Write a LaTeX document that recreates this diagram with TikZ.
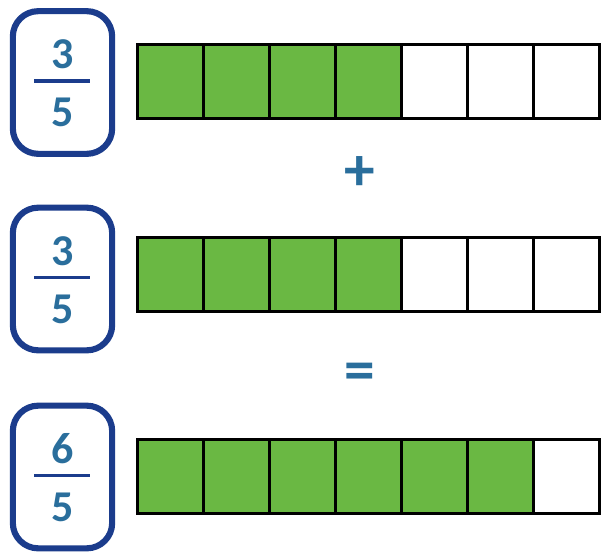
\documentclass[tikz,border=0pt]{standalone}
\usepackage{fontspec}
\setmainfont{Carlito}
\definecolor{boxblue}{HTML}{1B3C8C}
\definecolor{digitblue}{HTML}{2A6E9C}
\definecolor{cellgreen}{HTML}{6AB843}
\tikzset{
  fracbox/.style={draw=boxblue, line width=4.6pt, rounded corners=19pt, minimum width=74.5pt, minimum height=107pt, inner sep=0pt},
  digit/.style={text=digitblue, font=\bfseries\fontsize{33}{33}\selectfont, inner sep=0pt},
  fracline/.style={draw=boxblue, line width=2.4pt},
  cell/.style={draw=black, line width=2.25pt, minimum width=49.6pt, minimum height=55.5pt, inner sep=0pt},
  full/.style={cell, fill=cellgreen},
  empty/.style={cell, fill=white},
  opsign/.style={text=digitblue, font=\bfseries\fontsize{46}{46}\selectfont, inner sep=0pt}
}
\begin{document}
\begin{tikzpicture}[x=0.75pt, y=-0.75pt]
\useasboundingbox (0,0) rectangle (604,554);
% rows: box centre y, bar centre y, numerator, denominator, green cells
\foreach \r/\by/\cy/\num/\den/\g in {1/82.5/81/3/5/4, 2/279/274/3/5/4, 3/477/476/6/5/6} {
  \node[fracbox] (box\r) at (62.5,\by) {};
  \node[digit] (num\r) at (62.5,\by-28) {\num};
  \node[digit] (den\r) at (62.5,\by+30) {\den};
  \coordinate (fl\r) at (34,\by-1.5);
  \coordinate (fr\r) at (90,\by-1.5);
  \draw[fracline] (fl\r) -- (fr\r);
  \foreach \c in {1,...,7} {
    \pgfmathsetmacro{\cx}{137+66.14*(\c-0.5)}
    \ifnum\c>\g
      \node[empty] (c\r-\c) at (\cx,\cy) {};
    \else
      \node[full] (c\r-\c) at (\cx,\cy) {};
    \fi
  }
}
\node[opsign] (plus) at (360,174) {+};
\node[opsign] (equals) at (360,377) {=};
\end{tikzpicture}
\end{document}
